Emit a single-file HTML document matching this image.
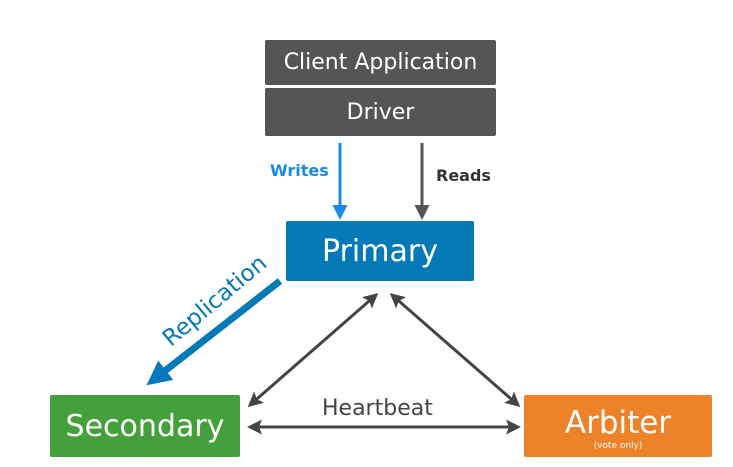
<!DOCTYPE html>
<html><head><style>
body{margin:0;width:733px;height:467px;background:#fff;overflow:hidden;position:relative;font-family:"DejaVu Sans","Liberation Sans",sans-serif}
.b{position:absolute;color:#fff;display:flex;align-items:center;justify-content:center;border-radius:2px}
</style></head><body>
<div class="b" style="left:265px;top:40px;width:231px;height:45px;background:#555;font-size:22px">Client Application</div>
<div class="b" style="left:265px;top:88px;width:231px;height:48px;background:#555;font-size:22px">Driver</div>
<div class="b" style="left:286px;top:221px;width:188px;height:60px;background:#0479b7;font-size:30px">Primary</div>
<div class="b" style="left:50px;top:395px;width:190px;height:62px;background:#43a03a;font-size:30px">Secondary</div>
<div class="b" style="left:524px;top:395px;width:188px;height:62px;background:#ee8229;font-size:31px;flex-direction:column"><div style="line-height:34px;margin-top:6px">Arbiter</div><div style="font-size:9px;line-height:12px">(vote only)</div></div>
<div style="position:absolute;left:270px;top:161px;color:#1a8ae6;font-weight:bold;font-size:16px">Writes</div>
<div style="position:absolute;left:436px;top:166px;color:#333;font-weight:bold;font-size:16px">Reads</div>
<div style="position:absolute;left:322px;top:396px;color:#444;font-size:22px">Heartbeat</div>
<div style="position:absolute;left:140px;top:288px;color:#0479b7;font-size:23px;transform:rotate(-40deg);transform-origin:center;width:150px;text-align:center">Replication</div>
<svg width="733" height="467" style="position:absolute;left:0;top:0">
<defs>
<marker id="a" markerWidth="5" markerHeight="5" refX="4" refY="2.5" orient="auto-start-reverse" markerUnits="strokeWidth"><path d="M0,0L5,2.5L0,5L1,2.5Z" fill="#444"/></marker>
<marker id="w" markerWidth="5" markerHeight="5" refX="4" refY="2.5" orient="auto" markerUnits="strokeWidth"><path d="M0,0L5,2.5L0,5Z" fill="#1a8ae6"/></marker>
<marker id="g" markerWidth="5" markerHeight="5" refX="4" refY="2.5" orient="auto" markerUnits="strokeWidth"><path d="M0,0L5,2.5L0,5Z" fill="#555"/></marker>
<marker id="r" markerWidth="3.5" markerHeight="3.5" refX="2.5" refY="1.75" orient="auto" markerUnits="strokeWidth"><path d="M0,0L3.5,1.75L0,3.5Z" fill="#0479b7"/></marker>
</defs>
<line x1="340" y1="143" x2="340" y2="217" stroke="#1a8ae6" stroke-width="3" marker-end="url(#w)"/>
<line x1="422" y1="143" x2="422" y2="217" stroke="#555" stroke-width="3" marker-end="url(#g)"/>
<line x1="250" y1="405" x2="376" y2="295" stroke="#444" stroke-width="3" marker-start="url(#a)" marker-end="url(#a)"/>
<line x1="392" y1="295" x2="518" y2="405" stroke="#444" stroke-width="3" marker-start="url(#a)" marker-end="url(#a)"/>
<line x1="250" y1="427" x2="518" y2="427" stroke="#444" stroke-width="3" marker-start="url(#a)" marker-end="url(#a)"/>
<line x1="280" y1="281" x2="152" y2="381" stroke="#0479b7" stroke-width="7" marker-end="url(#r)"/>
</svg>
</body></html>
